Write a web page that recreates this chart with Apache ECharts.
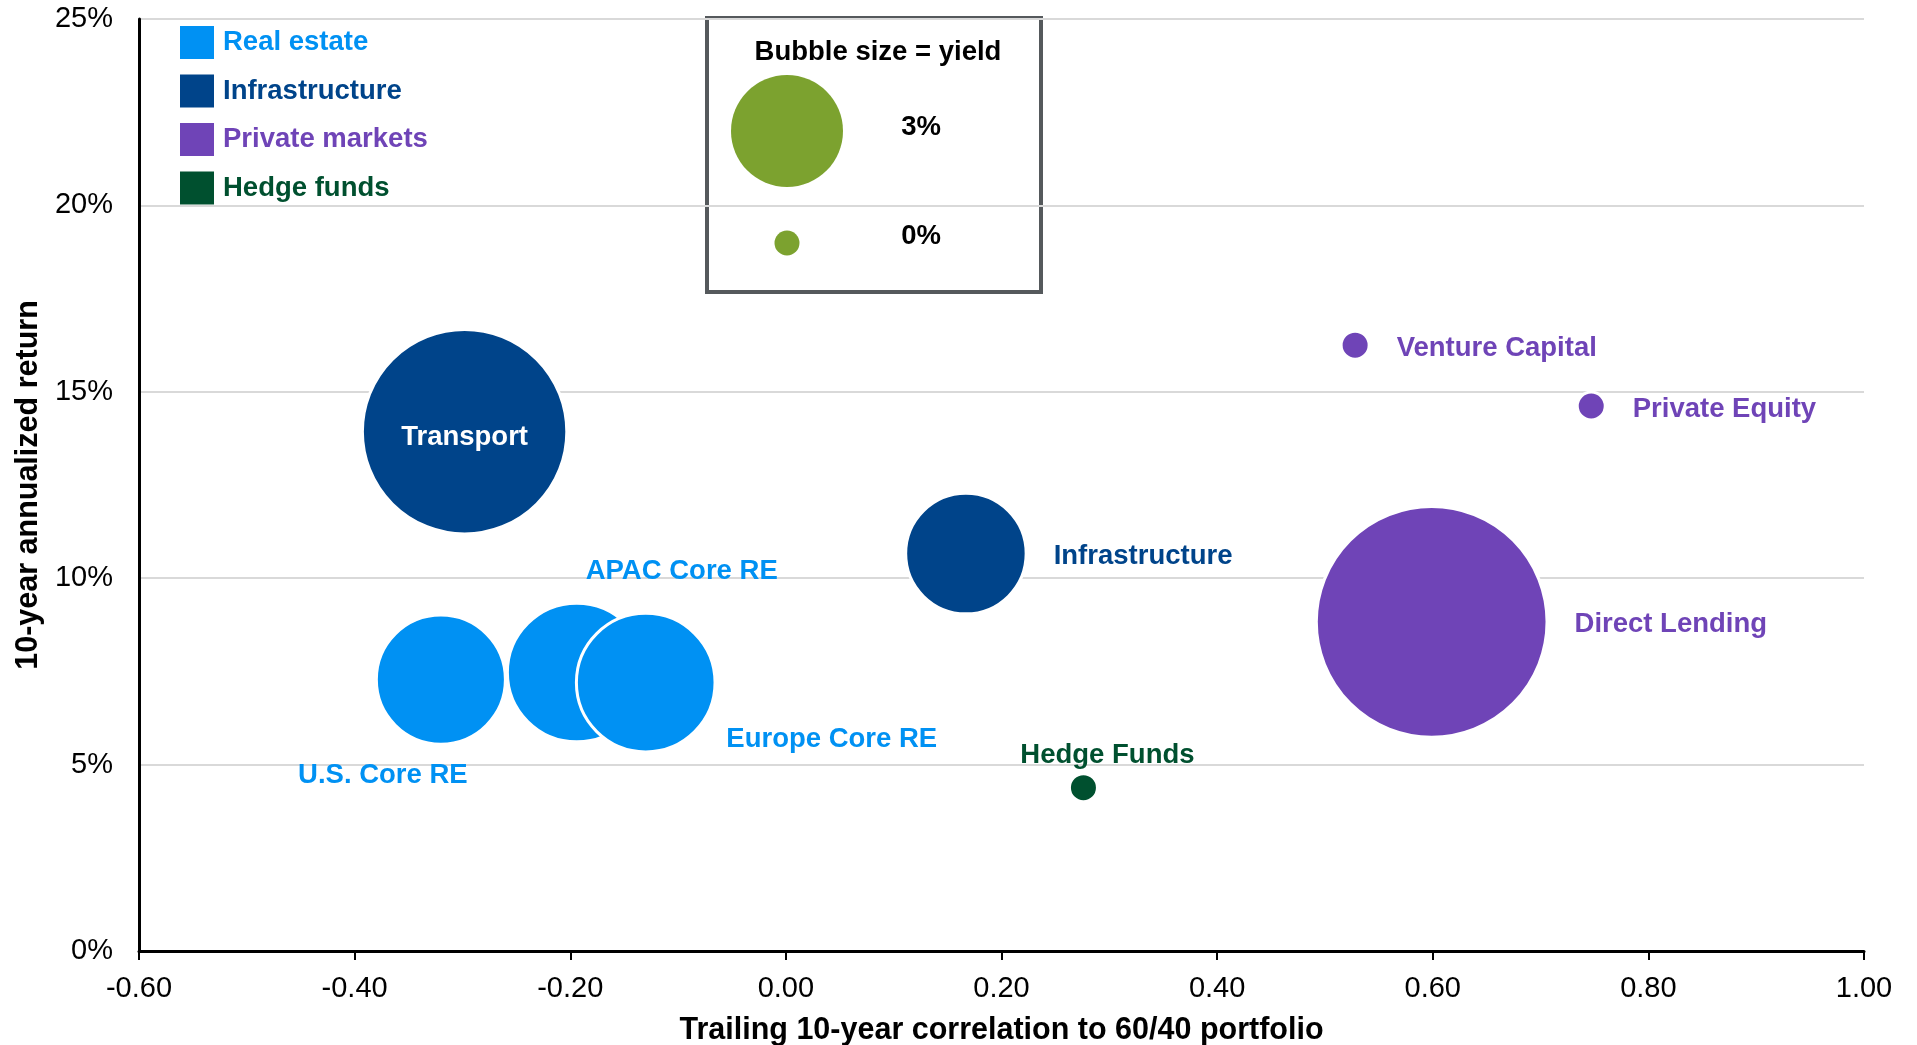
<!DOCTYPE html>
<html lang="en">
<head>
    <meta charset="UTF-8">
    <title>Return vs correlation to 60/40</title>
    <script src="https://cdn.jsdelivr.net/npm/echarts@6.0.0/dist/echarts.min.js"></script>
    <style>
        html, body { margin: 0; padding: 0; background: #fff; }
        #chart { width: 1917px; height: 1045px; }
    </style>
</head>
<body>
    <div id="chart"></div>
    <script>
        // groups shown in the legend
        const groupNames = ['Real estate', 'Infrastructure', 'Private markets', 'Hedge funds'];
        const groupColors = ['#0091f3', '#00448a', '#6f44b7', '#00502f'];

        // [name, correlation, 10y return %, yield %]
        const realEstate = [
            ['U.S. Core RE', -0.32, 7.28, 3.8],
            ['APAC Core RE', -0.194, 7.47, 4.4],
            ['Europe Core RE', -0.13, 7.2, 4.4]
        ];
        const infrastructure = [
            ['Transport', -0.298, 13.93, 9.7],
            ['Infrastructure', 0.167, 10.66, 3.3]
        ];
        const privateMarkets = [
            ['Venture Capital', 0.528, 16.25, 0],
            ['Private Equity', 0.747, 14.62, 0],
            ['Direct Lending', 0.599, 8.83, 12.4]
        ];
        const hedgeFunds = [
            ['Hedge Funds', 0.276, 4.38, 0]
        ];

        const xTicks = { min: -0.6, max: 1.0, step: 0.2 };
        const yTicks = { min: 0, max: 25, step: 5 };
        const legendYields = [3, 0];

        const FONT = '"Liberation Sans", Arial, sans-serif';

        // bubble diameter (area ~ yield), zero yield still gets a small dot
        function bubbleSize(y) {
            return y > 0 ? 112 * Math.sqrt(y / 3) : 25;
        }

        // label placement tweaks (relative to bubble centre)
        const labelTweaks = {
            'Transport': { position: 'inside', color: '#fff', offset: [0, 6] },
            'U.S. Core RE': { position: 'inside', offset: [-58, 96] },
            'APAC Core RE': { position: 'inside', offset: [105, -101] },
            'Europe Core RE': { position: 'inside', offset: [186, 57] },
            'Hedge Funds': { position: 'inside', offset: [24, -32] }
        };

        const groups = [realEstate, infrastructure, privateMarkets, hedgeFunds];

        const series = groups.map((pts, i) => ({
            name: groupNames[i],
            type: 'scatter',
            symbol: 'circle',
            symbolSize: v => bubbleSize(v[2]) + 3,
            itemStyle: { color: groupColors[i], borderColor: '#fff', borderWidth: 3, opacity: 1 },
            emphasis: { disabled: true },
            label: {
                show: true,
                position: 'right',
                distance: 26,
                offset: [0, 3],
                formatter: '{b}',
                color: groupColors[i],
                fontFamily: FONT,
                fontWeight: 'bold',
                fontSize: 27.5
            },
            data: pts.map(p => ({
                name: p[0],
                value: [p[1], p[2], p[3]],
                label: labelTweaks[p[0]] || {}
            }))
        }));

        // bubble size key
        const keyBox = { x: 707, y: 18, w: 334, h: 274 };
        const keyGraphics = [
            { type: 'rect', shape: { x: keyBox.x, y: keyBox.y, width: keyBox.w, height: keyBox.h },
              style: { fill: 'none', stroke: '#55595c', lineWidth: 4 } },
            { type: 'text', x: 878, y: 52,
              style: { text: 'Bubble size = yield', fill: '#000', font: 'bold 27.5px ' + FONT, align: 'center', verticalAlign: 'middle' } }
        ];
        const keyRows = [131, 243];
        const keyTextY = [127, 236];
        legendYields.forEach((y, i) => {
            keyGraphics.push({ type: 'circle', shape: { cx: 787, cy: keyRows[i], r: bubbleSize(y) / 2 },
                style: { fill: '#7ca22f' } });
            keyGraphics.push({ type: 'text', x: 921, y: keyTextY[i],
                style: { text: y + '%', fill: '#000', font: 'bold 27.5px ' + FONT, align: 'center', verticalAlign: 'middle' } });
        });

        const chart = echarts.init(document.getElementById('chart'));
        chart.setOption({
            animation: false,
            backgroundColor: '#fff',
            textStyle: { fontFamily: FONT },
            grid: { left: 139, right: 53, top: 19, bottom: 94, outerBoundsMode: 'none', containLabel: false },
            legend: {
                orient: 'vertical',
                left: 175,
                top: 21,
                itemWidth: 34,
                itemHeight: 33,
                itemGap: 15.5,
                selectedMode: false,
                icon: 'rect',
                data: groupNames.map((n, i) => ({
                    name: n,
                    itemStyle: { borderWidth: 0 },
                    textStyle: { color: groupColors[i], fontWeight: 'bold', fontSize: 27.5, fontFamily: FONT, padding: [5, 0, 0, 4] }
                }))
            },
            xAxis: {
                type: 'value',
                min: xTicks.min,
                max: xTicks.max,
                interval: xTicks.step,
                name: 'Trailing 10-year correlation to 60/40 portfolio',
                nameLocation: 'middle',
                nameGap: 64,
                nameTextStyle: { color: '#000', fontWeight: 'bold', fontSize: 30.5, fontFamily: FONT },
                axisLine: { onZero: false, lineStyle: { color: '#000', width: 3 } },
                axisTick: { show: true, inside: false, length: 9, lineStyle: { color: '#000', width: 2 } },
                axisLabel: { color: '#000', fontSize: 29, margin: 23, formatter: v => v.toFixed(2) },
                splitLine: { show: false }
            },
            yAxis: {
                type: 'value',
                min: yTicks.min,
                max: yTicks.max,
                interval: yTicks.step,
                name: '10-year annualized return',
                nameLocation: 'middle',
                nameGap: 94,
                nameTextStyle: { color: '#000', fontWeight: 'bold', fontSize: 30.5, fontFamily: FONT },
                axisLine: { show: true, onZero: false, lineStyle: { color: '#000', width: 3 } },
                axisTick: { show: false },
                axisLabel: { color: '#000', fontSize: 29, margin: 26, padding: [4, 0, 0, 0], formatter: '{value}%' },
                splitLine: { show: true, lineStyle: { color: '#d9d9d9', width: 2 } }
            },
            graphic: keyGraphics,
            series: series
        });
    </script>
</body>
</html>
